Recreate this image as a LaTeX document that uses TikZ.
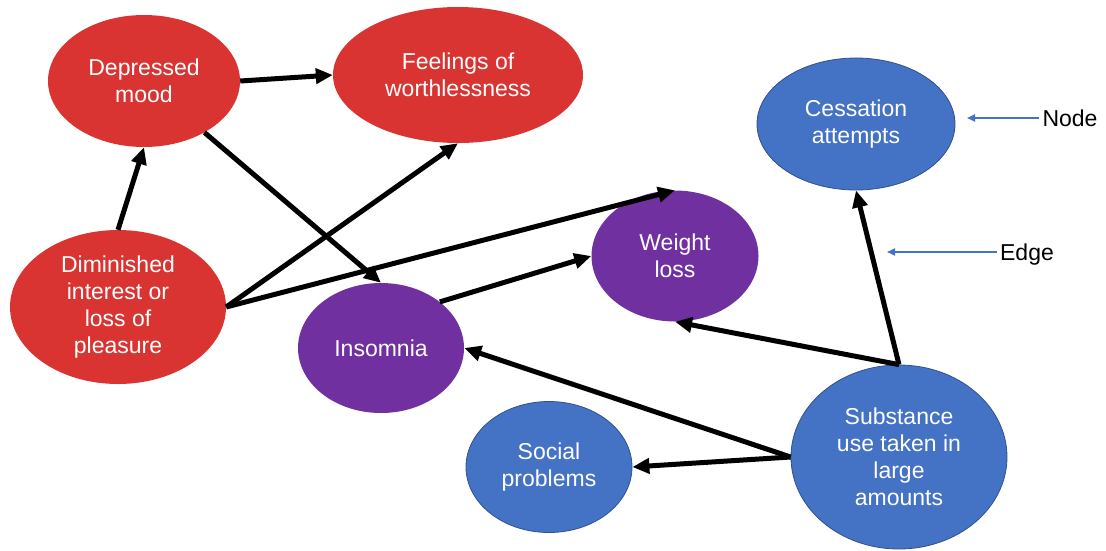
\documentclass[tikz,border=0pt]{standalone}
\usepackage{fontspec}
\setmainfont{Liberation Sans}
\usetikzlibrary{shapes.geometric, arrows.meta}
\definecolor{symred}{HTML}{D93431}
\definecolor{sympurple}{HTML}{7030A0}
\definecolor{symblue}{HTML}{4472C4}
\definecolor{symborder}{HTML}{2F528F}

\begin{document}
\begin{tikzpicture}[x=1pt, y=-1pt,
	every node/.style={font=\fontsize{23}{27}\selectfont},
	symp/.style={ellipse, inner sep=0pt, align=center, text=white},
	redsymp/.style={symp, fill=symred},
	purpsymp/.style={symp, fill=sympurple},
	bluesymp/.style={symp, fill=symblue, draw=symborder, line width=0.8pt},
	link/.style={-{Triangle[length=17pt, width=15pt]}, line width=5pt, black},
	pointer/.style={-{Triangle[length=8pt, width=7pt]}, line width=1.8pt, symblue},
	tag/.style={text height=16.5pt, text depth=0pt, black}]
	
	% 画布范围
	\useasboundingbox (0,0) rectangle (1106,550);
	
	% ================= 抑郁症状 (红色) =================
	\node[redsymp, minimum width=192pt, minimum height=132pt] (dep) at (144,81) {Depressed\\mood};
	\node[redsymp, minimum width=250pt, minimum height=136pt] (worth) at (458,75) {Feelings of\\worthlessness};
	\node[redsymp, minimum width=216pt, minimum height=154pt] (dim) at (118,307) {Diminished\\interest or\\loss of\\pleasure};
	
	% ================= 共有症状 (紫色) =================
	\node[purpsymp, minimum width=166pt, minimum height=130pt] (ins) at (381,348) {Insomnia};
	\node[purpsymp, minimum width=167pt, minimum height=131pt] (wl) at (675,256) {Weight\\loss};
	
	% ================= 物质使用症状 (蓝色) =================
	\node[bluesymp, minimum width=198pt, minimum height=132pt] (cess) at (856,124) {Cessation\\attempts};
	\node[bluesymp, minimum width=166pt, minimum height=131pt] (soc) at (549,467) {Social\\problems};
	\node[bluesymp, minimum width=216pt, minimum height=184pt] (sub) at (899,457) {Substance\\use taken in\\large\\amounts};
	
	% 边
	\draw[link] (dim.north) -- (dep.south);
	\draw[link] (dep.east) -- (worth.west);
	\draw[link] (dep) -- (ins.north);
	\draw[link] (dim.east) -- (worth.south);
	\draw[link] (dim.east) -- (wl.north);
	\draw[link] (ins.north east) -- (wl.west);
	\draw[link] (sub.north) -- (cess.south);
	\draw[link] (sub.north) -- (wl.south);
	\draw[link] (sub.west) -- (ins.east);
	\draw[link] (sub.west) -- (soc.east);
	
	% ================= 图注 =================
	\node[tag] (nodelbl) at (1070,118) {Node};
	\coordinate (nodetip) at (967,118);
	\draw[pointer] (nodelbl.west) -- (nodetip);
	\node[tag] (edgelbl) at (1027,252) {Edge};
	\coordinate (edgetip) at (887,252);
	\draw[pointer] (edgelbl.west) -- (edgetip);
	
\end{tikzpicture}
\end{document}
